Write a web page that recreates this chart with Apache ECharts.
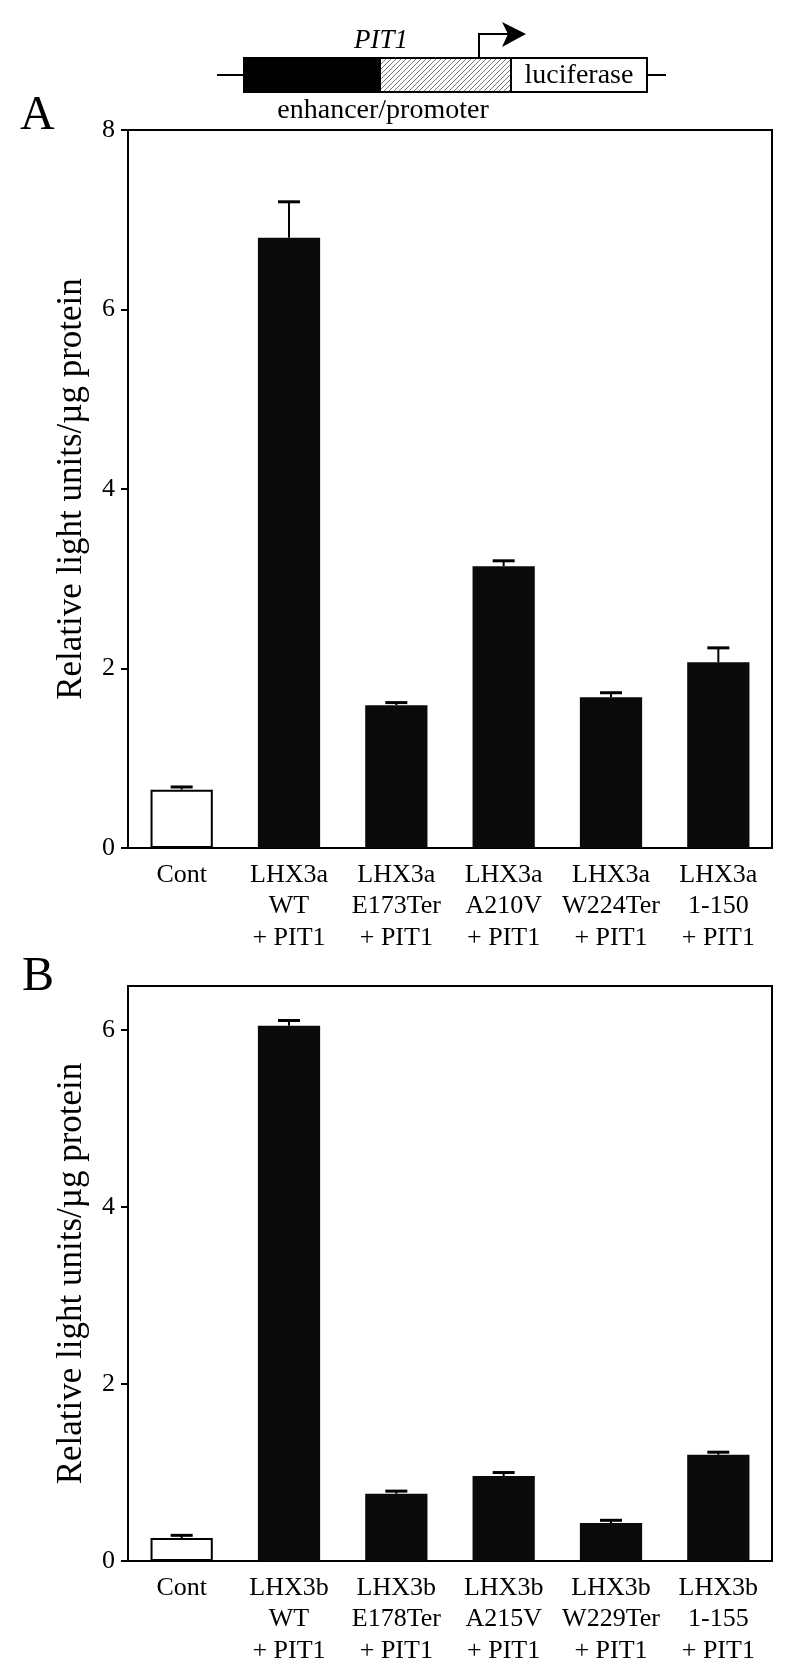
<!DOCTYPE html>
<html>
<head>
<meta charset="utf-8">
<script src="https://cdn.jsdelivr.net/npm/echarts@6/dist/echarts.min.js"></script>
<style>
html,body{margin:0;padding:0;background:#fff;}
#chart{width:800px;height:1678px;}
</style>
</head>
<body>
<div id="chart"></div>
<script>
// ---- data ----
const categoriesA = ['Cont', 'LHX3a\nWT\n+ PIT1', 'LHX3a\nE173Ter\n+ PIT1', 'LHX3a\nA210V\n+ PIT1', 'LHX3a\nW224Ter\n+ PIT1', 'LHX3a\n1-150\n+ PIT1'];
const valuesA = [0.65, 6.80, 1.59, 3.14, 1.68, 2.07];
const errorsA = [0.03, 0.40, 0.03, 0.06, 0.05, 0.16];
const ticksA = [0, 2, 4, 6, 8];

const categoriesB = ['Cont', 'LHX3b\nWT\n+ PIT1', 'LHX3b\nE178Ter\n+ PIT1', 'LHX3b\nA215V\n+ PIT1', 'LHX3b\nW229Ter\n+ PIT1', 'LHX3b\n1-155\n+ PIT1'];
const valuesB = [0.26, 6.05, 0.76, 0.96, 0.43, 1.20];
const errorsB = [0.03, 0.06, 0.03, 0.04, 0.03, 0.03];
const ticksB = [0, 2, 4, 6];

const yName = 'Relative light units/µg protein';
const FONT = '"Liberation Serif", "DejaVu Serif", serif';

// hatch pattern canvas
const hc = document.createElement('canvas');
hc.width = 5; hc.height = 5;
const hx = hc.getContext('2d');
hx.fillStyle = '#fff'; hx.fillRect(0, 0, 5, 5);
hx.strokeStyle = '#7a7a7a'; hx.lineWidth = 1;
hx.beginPath();
hx.moveTo(0, 5); hx.lineTo(5, 0);
hx.moveTo(-1, 1); hx.lineTo(1, -1);
hx.moveTo(4, 6); hx.lineTo(6, 4);
hx.stroke();

function barData(vals) {
  return vals.map((v, i) => i === 0
    ? { value: v, itemStyle: { color: '#fff', borderColor: '#000', borderWidth: 2 } }
    : { value: v, itemStyle: { color: '#0a0a0a' } });
}
function errData(vals, errs) {
  return vals.map((v, i) => [i, v, v + errs[i]]);
}
function errRender(params, api) {
  const x = api.value(0);
  const p0 = api.coord([x, api.value(1)]);
  const p1 = api.coord([x, api.value(2)]);
  const half = 11;
  return {
    type: 'group',
    children: [
      { type: 'line', shape: { x1: p0[0], y1: p0[1], x2: p1[0], y2: p1[1] }, style: { stroke: '#000', lineWidth: 2 } },
      { type: 'line', shape: { x1: p1[0] - half, y1: p1[1], x2: p1[0] + half, y2: p1[1] }, style: { stroke: '#000', lineWidth: 3 } }
    ]
  };
}
function xAxisCfg(cats, gi) {
  return {
    type: 'category', gridIndex: gi, data: cats,
    axisLine: { lineStyle: { color: '#000', width: 2 } },
    axisTick: { show: false },
    axisLabel: { color: '#000', fontFamily: FONT, fontSize: 26, lineHeight: 31.5, margin: 11, interval: 0 }
  };
}
function yAxisCfg(max, ticks, gi) {
  return {
    type: 'value', gridIndex: gi, min: 0, max: max, interval: 2,
    name: yName, nameLocation: 'middle', nameGap: 39,
    nameTextStyle: { color: '#000', fontFamily: FONT, fontSize: 35 },
    axisLine: { show: true, lineStyle: { color: '#000', width: 2 } },
    axisTick: { show: true, length: 7, lineStyle: { color: '#000', width: 2 }, customValues: ticks },
    axisLabel: { color: '#000', fontFamily: FONT, fontSize: 26, margin: 13, customValues: ticks },
    splitLine: { show: false }
  };
}

const chart = echarts.init(document.getElementById('chart'), null, { renderer: 'canvas' });
chart.setOption({
  backgroundColor: '#fff',
  animation: false,
  grid: [
    { left: 128, right: 28, top: 130, height: 718, show: true, borderColor: '#000', borderWidth: 2, backgroundColor: 'transparent' },
    { left: 128, right: 28, top: 986, height: 575, show: true, borderColor: '#000', borderWidth: 2, backgroundColor: 'transparent' }
  ],
  xAxis: [xAxisCfg(categoriesA, 0), xAxisCfg(categoriesB, 1)],
  yAxis: [yAxisCfg(8, ticksA, 0), yAxisCfg(6.5, ticksB, 1)],
  series: [
    { type: 'bar', xAxisIndex: 0, yAxisIndex: 0, barWidth: '58%', data: barData(valuesA) },
    { type: 'custom', xAxisIndex: 0, yAxisIndex: 0, renderItem: errRender, data: errData(valuesA, errorsA), z: 3 },
    { type: 'bar', xAxisIndex: 1, yAxisIndex: 1, barWidth: '58%', data: barData(valuesB) },
    { type: 'custom', xAxisIndex: 1, yAxisIndex: 1, renderItem: errRender, data: errData(valuesB, errorsB), z: 3 }
  ],
  graphic: [
    // panel letters
    { type: 'text', left: 20, top: 92, style: { text: 'A', font: '48px ' + FONT, fill: '#000' } },
    { type: 'text', left: 22, top: 953, style: { text: 'B', font: '48px ' + FONT, fill: '#000' } },
    // construct diagram
    { type: 'line', shape: { x1: 217, y1: 75, x2: 244, y2: 75 }, style: { stroke: '#000', lineWidth: 2 } },
    { type: 'line', shape: { x1: 647, y1: 75, x2: 666, y2: 75 }, style: { stroke: '#000', lineWidth: 2 } },
    { type: 'rect', shape: { x: 380, y: 58, width: 131, height: 34 }, style: { fill: { image: hc, repeat: 'repeat' }, stroke: '#000', lineWidth: 2 } },
    { type: 'rect', shape: { x: 244, y: 58, width: 136, height: 34 }, style: { fill: '#000', stroke: '#000', lineWidth: 2 } },
    { type: 'rect', shape: { x: 511, y: 58, width: 136, height: 34 }, style: { fill: '#fff', stroke: '#000', lineWidth: 2 } },
    { type: 'text', style: { x: 579, y: 76, text: 'luciferase', font: '28px ' + FONT, fill: '#000', align: 'center', verticalAlign: 'middle' } },
    { type: 'text', style: { x: 381, y: 41, text: 'PIT1', font: 'italic 27px ' + FONT, fill: '#000', align: 'center', verticalAlign: 'middle' } },
    { type: 'text', style: { x: 383, y: 111, text: 'enhancer/promoter', font: '28px ' + FONT, fill: '#000', align: 'center', verticalAlign: 'middle' } },
    { type: 'polyline', shape: { points: [[479, 58], [479, 34], [510, 34]] }, style: { stroke: '#000', lineWidth: 2, fill: null } },
    { type: 'polygon', shape: { points: [[526, 34], [502, 22], [508, 34], [502, 47]] }, style: { fill: '#000' } }
  ]
});
</script>
</body>
</html>
